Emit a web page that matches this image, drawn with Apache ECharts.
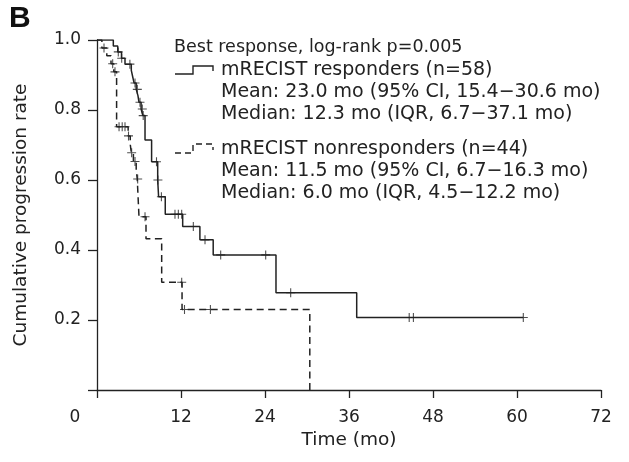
<!DOCTYPE html>
<html>
<head>
<meta charset="utf-8">
<script src="https://cdn.jsdelivr.net/npm/echarts@6/dist/echarts.min.js"></script>
<style>
html,body{margin:0;padding:0;background:#fff;}
#c{width:629px;height:462px;}
</style>
</head>
<body>
<div id="c"></div>
<script>
// ---- Data (time in months, cumulative rate) ----
const xTicks = [0, 12, 24, 36, 48, 60, 72];
const yTicks = [0, 0.2, 0.4, 0.6, 0.8, 1.0];

// mRECIST responders (n=58): step points (time, value after step)
const respTimes = [0, 2.33, 2.96, 3.5, 4.0, 4.9, 5.1, 5.3, 5.6, 5.85, 6.0, 6.3, 6.55, 6.86, 7.8, 8.67, 8.8, 9.75, 12.24, 14.7, 16.6, 25.57, 37.1, 60.9];
const respRate  = [1.0, 0.983, 0.966, 0.948, 0.931, 0.913, 0.895, 0.877, 0.859, 0.841, 0.822, 0.803, 0.784, 0.714, 0.652, 0.600, 0.552, 0.502, 0.467, 0.429, 0.386, 0.278, 0.207, 0.207];
// censored marks
const respCensTimes = [3.04, 3.53, 4.7, 5.43, 5.76, 6.14, 6.47, 6.6, 8.5, 8.7, 9.2, 11.14, 11.62, 12.1, 13.76, 15.43, 17.67, 24.1, 27.67, 44.6, 45.2, 60.9];
const respCensRate  = [0.966, 0.948, 0.931, 0.877, 0.859, 0.822, 0.803, 0.784, 0.652, 0.600, 0.552, 0.502, 0.502, 0.502, 0.467, 0.429, 0.386, 0.386, 0.278, 0.207, 0.207, 0.207];

// mRECIST nonresponders (n=44)
const nonTimes = [0, 0.7, 1.4, 2.0, 2.4, 2.8, 4.45, 4.75, 4.9, 5.2, 5.6, 5.75, 6.0, 7.0, 9.24, 12.15, 30.4];
const nonRate  = [1.0, 0.977, 0.955, 0.932, 0.909, 0.752, 0.726, 0.702, 0.678, 0.653, 0.628, 0.603, 0.495, 0.432, 0.308, 0.230, 0];
const nonCensTimes = [1.0, 2.24, 2.57, 3.15, 3.6, 4.0, 4.5, 4.95, 5.43, 5.81, 6.86, 12.1, 12.5, 16.2];
const nonCensRate  = [0.977, 0.932, 0.909, 0.752, 0.752, 0.752, 0.726, 0.678, 0.653, 0.603, 0.495, 0.308, 0.230, 0.230];

const seriesNames = ['mRECIST responders (n=58)', 'mRECIST nonresponders (n=44)'];
const legendTitle = 'Best response, log-rank p=0.005';
const respNotes = ['Mean: 23.0 mo (95% CI, 15.4\u221230.6 mo)', 'Median: 12.3 mo (IQR, 6.7\u221237.1 mo)'];
const nonNotes  = ['Mean: 11.5 mo (95% CI, 6.7\u221216.3 mo)', 'Median: 6.0 mo (IQR, 4.5\u221212.2 mo)'];
const panelLabel = 'B';
const xName = 'Time (mo)';
const yName = 'Cumulative progression rate';

// ---- Build ----
const INK = '#222';
const FONT = '"DejaVu Sans", sans-serif';
const zip = (a, b) => a.map((v, i) => [v, b[i]]);
const plusPath = 'path://M4.4,0h1.2v10h-1.2zM0,4.4h10v1.2h-10z';

const chart = echarts.init(document.getElementById('c'), null, {renderer: 'canvas'});

function txt(text, x, y, size) {
  return {type: 'text', silent: true, style: {text: text, x: x, y: y, fill: INK,
    font: size + 'px ' + FONT, verticalAlign: 'middle', textVerticalAlign: 'middle', align: 'left'}};
}

const legendX = 174, textX = 221;
const graphics = [
  {type: 'text', silent: true, style: {text: panelLabel, x: 9, y: 4, fill: '#111',
    font: 'bold 30px "Liberation Sans", Arial, sans-serif'}},
  txt(legendTitle, legendX, 47, 17.5),
  txt(seriesNames[0], textX, 70, 19),
  txt(respNotes[0], textX, 92, 19),
  txt(respNotes[1], textX, 114, 19),
  txt(seriesNames[1], textX, 149, 19),
  txt(nonNotes[0], textX, 171, 19),
  txt(nonNotes[1], textX, 193, 19),
  {type: 'polyline', silent: true, shape: {points: [[175, 74], [193, 74], [193, 66], [213, 66], [213, 71]]},
    style: {stroke: INK, lineWidth: 1.4, fill: null}},
  {type: 'polyline', silent: true, shape: {points: [[175, 153], [193, 153], [193, 144], [213, 144], [213, 150]]},
    style: {stroke: INK, lineWidth: 1.4, fill: null, lineDash: [6, 4]}}
];

const option = {
  animation: false,
  backgroundColor: '#fff',
  textStyle: {fontFamily: FONT, color: INK},
  grid: {left: 97, right: 28, top: 40, bottom: 72, containLabel: false, outerBoundsMode: 'none'},
  xAxis: {
    type: 'value', min: xTicks[0], max: xTicks[xTicks.length - 1], interval: xTicks[1] - xTicks[0],
    name: xName, nameLocation: 'middle', nameGap: 40,
    nameTextStyle: {fontSize: 18.5, color: INK, fontFamily: FONT},
    axisLine: {show: true, onZero: false, lineStyle: {color: INK, width: 1.3}},
    axisTick: {show: true, length: 8, lineStyle: {color: INK, width: 1.3}},
    axisLabel: {show: true, margin: 19, fontSize: 17, color: INK, fontFamily: FONT,
      formatter: v => v === 0 ? '{z|0}' : String(v),
      rich: {z: {fontSize: 17, color: INK, fontFamily: FONT, padding: [0, 44, 0, 0]}}},
    splitLine: {show: false}
  },
  yAxis: {
    type: 'value', min: yTicks[0], max: yTicks[yTicks.length - 1], interval: 0.2,
    name: yName, nameLocation: 'middle', nameGap: 66,
    nameTextStyle: {fontSize: 18.5, color: INK, fontFamily: FONT},
    axisLine: {show: true, onZero: false, lineStyle: {color: INK, width: 1.3}},
    axisTick: {show: true, length: 9, lineStyle: {color: INK, width: 1.3}},
    axisLabel: {show: true, margin: 16, fontSize: 17, color: INK, fontFamily: FONT,
      formatter: v => v === 0 ? '' : v.toFixed(1)},
    splitLine: {show: false}
  },
  series: [
    {name: seriesNames[0], type: 'line', step: 'end', symbol: 'none', data: zip(respTimes, respRate),
      lineStyle: {color: INK, width: 1.5, type: 'solid'}, z: 3},
    {name: seriesNames[1], type: 'line', step: 'end', symbol: 'none', data: zip(nonTimes, nonRate),
      lineStyle: {color: INK, width: 1.5, type: [7, 4.5]}, z: 3},
    {name: seriesNames[0] + ' censored', type: 'scatter', symbol: plusPath, symbolSize: 9,
      data: zip(respCensTimes, respCensRate), itemStyle: {color: INK}, z: 4},
    {name: seriesNames[1] + ' censored', type: 'scatter', symbol: plusPath, symbolSize: 9,
      data: zip(nonCensTimes, nonCensRate), itemStyle: {color: INK}, z: 4}
  ],
  graphic: graphics
};
chart.setOption(option);
</script>
</body>
</html>
